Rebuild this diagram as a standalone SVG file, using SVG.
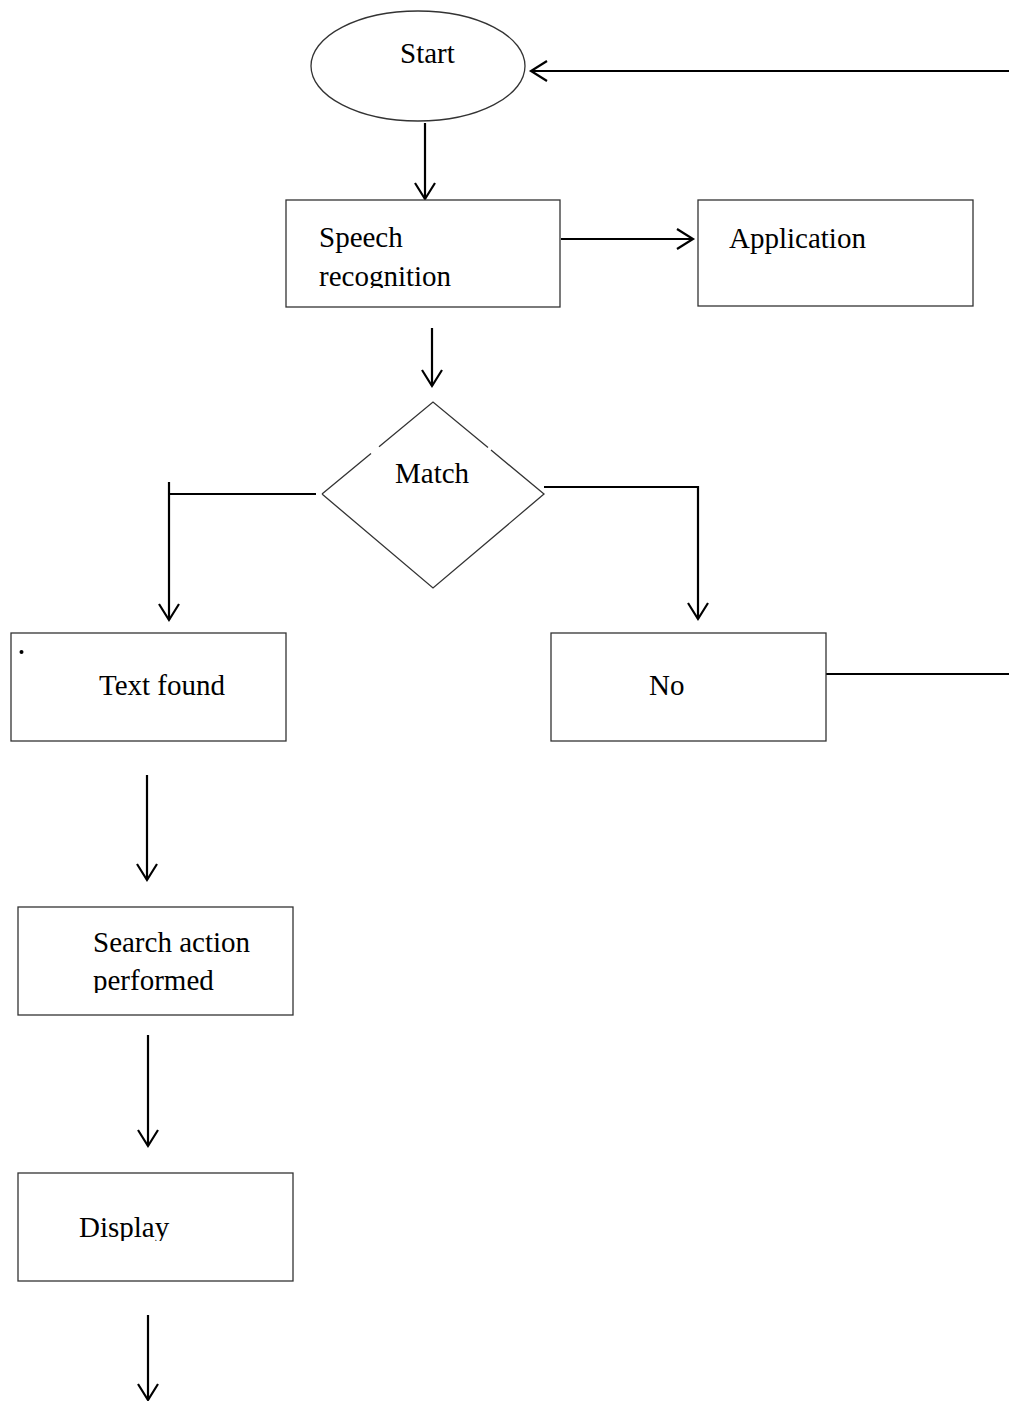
<svg xmlns="http://www.w3.org/2000/svg" width="1009" height="1401" viewBox="0 0 1009 1401">
<style>
.box{fill:#fff;stroke:#333;stroke-width:1.3}
.lbl{font-family:"Liberation Serif","Times New Roman",serif;font-size:29px;fill:#000}
.con{fill:none;stroke:#000;stroke-width:2.2}
</style>
<defs>
<marker id="ah" markerUnits="userSpaceOnUse" markerWidth="24" markerHeight="24" viewBox="-20 -12 24 24" refX="0" refY="0" orient="auto">
<path d="M-16,-10 L0,0 L-16,10" fill="none" stroke="#000" stroke-width="2.2"/>
</marker>
<clipPath id="c1"><rect x="280" y="200" width="290" height="88"/></clipPath>
<clipPath id="c2"><rect x="10" y="900" width="290" height="93"/></clipPath>
<clipPath id="c3"><rect x="10" y="1170" width="290" height="71"/></clipPath>
</defs>
<rect width="1009" height="1401" fill="#fff"/>
<g id="connectors">
<line class="con" x1="425" y1="123" x2="425" y2="199" marker-end="url(#ah)"/>
<line class="con" x1="1009" y1="71" x2="531" y2="71" marker-end="url(#ah)"/>
<line class="con" x1="561" y1="239" x2="693" y2="239" marker-end="url(#ah)"/>
<line class="con" x1="432" y1="328" x2="432" y2="386" marker-end="url(#ah)"/>
<line class="con" x1="316" y1="494" x2="169" y2="494"/>
<line class="con" x1="169" y1="482" x2="169" y2="620" marker-end="url(#ah)"/>
<polyline class="con" points="544,487 698,487 698,619" marker-end="url(#ah)"/>
<line class="con" x1="826" y1="674" x2="1009" y2="674"/>
<line class="con" x1="147" y1="775" x2="147" y2="880" marker-end="url(#ah)"/>
<line class="con" x1="148" y1="1035" x2="148" y2="1146" marker-end="url(#ah)"/>
<line class="con" x1="148" y1="1315" x2="148" y2="1400" marker-end="url(#ah)"/>
</g>
<g id="start">
<ellipse class="box" cx="418" cy="66" rx="107" ry="55"/>
<text class="lbl" x="400" y="63">Start</text>
</g>
<g id="speech">
<rect class="box" x="286" y="200" width="274" height="107"/>
<text class="lbl" x="319" y="247">Speech</text>
<text class="lbl" x="319" y="286" clip-path="url(#c1)">recognition</text>
</g>
<g id="application">
<rect class="box" x="698" y="200" width="275" height="106"/>
<text class="lbl" x="729" y="248">Application</text>
</g>
<g id="match">
<path d="M322,494 L371,453.4 M379,446.8 L433,402 L488,447.6 M491,450.1 L544,494 L433,588 L322,494" fill="none" stroke="#333" stroke-width="1.3"/>
<text class="lbl" x="395" y="483">Match</text>
</g>
<g id="textfound">
<rect class="box" x="11" y="633" width="275" height="108"/>
<circle cx="21.5" cy="652" r="2" fill="#000"/>
<text class="lbl" x="99" y="695">Text found</text>
</g>
<g id="no">
<rect class="box" x="551" y="633" width="275" height="108"/>
<text class="lbl" x="649" y="695">No</text>
</g>
<g id="search">
<rect class="box" x="18" y="907" width="275" height="108"/>
<text class="lbl" x="93" y="952">Search action</text>
<text class="lbl" x="93" y="990" clip-path="url(#c2)">performed</text>
</g>
<g id="display">
<rect class="box" x="18" y="1173" width="275" height="108"/>
<text class="lbl" x="79" y="1237" clip-path="url(#c3)">Display</text>
</g>
</svg>
